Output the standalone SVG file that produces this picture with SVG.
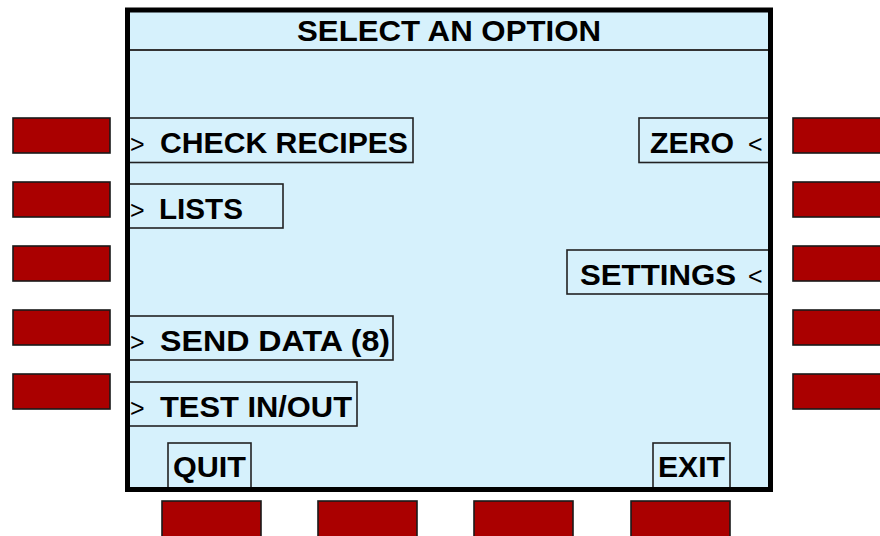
<svg xmlns="http://www.w3.org/2000/svg" width="880" height="536" viewBox="0 0 880 536">
<style>
.key{fill:#aa0000;stroke:#1a1a1a;stroke-width:1.6}
.box{fill:#d6f1fc;stroke:#222;stroke-width:1.6}
.t{font-family:"Liberation Sans",Arial,sans-serif;font-weight:bold;font-size:29px;fill:#000}
.ar{font-family:"Liberation Sans",Arial,sans-serif;font-size:25px;fill:#000}
</style>
<rect width="880" height="536" fill="#ffffff"/>
<g id="left-keys">
<rect class="key" x="13" y="118" width="97" height="35"/>
<rect class="key" x="13" y="182" width="97" height="35"/>
<rect class="key" x="13" y="246" width="97" height="35"/>
<rect class="key" x="13" y="310" width="97" height="35"/>
<rect class="key" x="13" y="374" width="97" height="35"/>
</g>
<g id="right-keys">
<rect class="key" x="793" y="118" width="100" height="35"/>
<rect class="key" x="793" y="182" width="100" height="35"/>
<rect class="key" x="793" y="246" width="100" height="35"/>
<rect class="key" x="793" y="310" width="100" height="35"/>
<rect class="key" x="793" y="374" width="100" height="35"/>
</g>
<g id="bottom-keys">
<rect class="key" x="162" y="501" width="99" height="40"/>
<rect class="key" x="318" y="501" width="99" height="40"/>
<rect class="key" x="474" y="501" width="99" height="40"/>
<rect class="key" x="631" y="501" width="99" height="40"/>
</g>
<g id="screen">
<rect x="127.5" y="10" width="643" height="479.5" fill="#d6f1fc"/>
<line x1="128" y1="50" x2="770" y2="50" stroke="#333" stroke-width="2"/>
</g>
<g id="title">
<text class="t" x="297" y="41" textLength="304" lengthAdjust="spacingAndGlyphs" style="font-size:30px">SELECT AN OPTION</text>
</g>
<g id="check-recipes">
<rect class="box" x="127" y="118" width="286" height="44.5"/>
<text class="ar" x="130" y="153">&gt;</text>
<text class="t" x="160" y="153" textLength="248" lengthAdjust="spacingAndGlyphs">CHECK RECIPES</text>
</g>
<g id="lists">
<rect class="box" x="127" y="184" width="156" height="44"/>
<text class="ar" x="130" y="219">&gt;</text>
<text class="t" x="159" y="219" textLength="84" lengthAdjust="spacingAndGlyphs">LISTS</text>
</g>
<g id="send-data">
<rect class="box" x="127" y="316" width="266" height="44"/>
<text class="ar" x="130" y="351">&gt;</text>
<text class="t" x="160" y="351" textLength="230" lengthAdjust="spacingAndGlyphs">SEND DATA (8)</text>
</g>
<g id="test-in-out">
<rect class="box" x="127" y="382" width="230" height="44"/>
<text class="ar" x="130" y="417">&gt;</text>
<text class="t" x="160" y="417" textLength="192" lengthAdjust="spacingAndGlyphs">TEST IN/OUT</text>
</g>
<g id="zero">
<rect class="box" x="639" y="118" width="132" height="44.5"/>
<text class="t" x="650" y="153" textLength="84" lengthAdjust="spacingAndGlyphs">ZERO</text>
<text class="ar" x="748" y="153">&lt;</text>
</g>
<g id="settings">
<rect class="box" x="567" y="250" width="204" height="44"/>
<text class="t" x="580" y="285" textLength="156" lengthAdjust="spacingAndGlyphs">SETTINGS</text>
<text class="ar" x="748" y="285">&lt;</text>
</g>
<g id="quit">
<rect class="box" x="168" y="443" width="83" height="48"/>
<text class="t" x="173" y="477" textLength="73" lengthAdjust="spacingAndGlyphs">QUIT</text>
</g>
<g id="exit">
<rect class="box" x="653" y="443" width="77" height="48"/>
<text class="t" x="658" y="477" textLength="67" lengthAdjust="spacingAndGlyphs">EXIT</text>
</g>
<g id="frame">
<rect x="127.5" y="10" width="643" height="479.5" fill="none" stroke="#000" stroke-width="5"/>
</g>
</svg>
